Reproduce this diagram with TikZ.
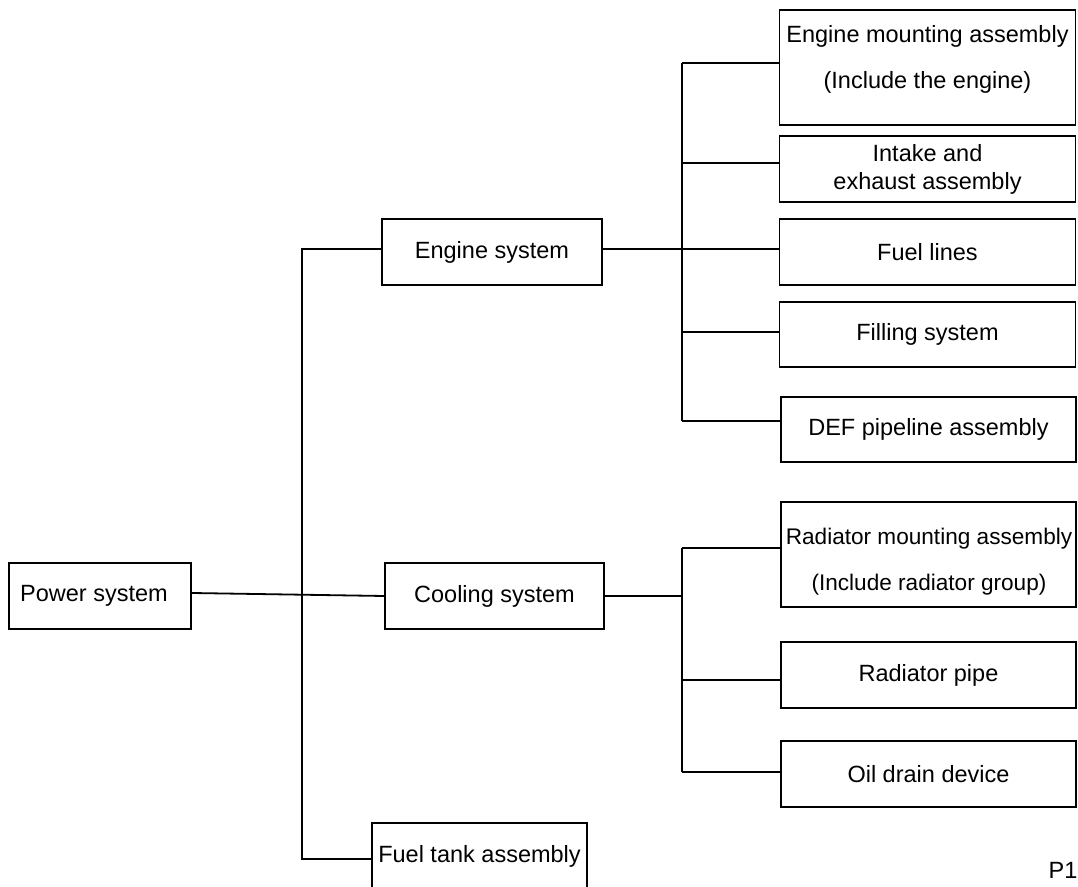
\documentclass[tikz,border=0pt]{standalone}
\usepackage{fontspec}
\setmainfont{Liberation Sans}
\tikzset{
  box/.style={draw,rectangle,inner sep=2pt,align=center,font=\fontsize{11.75}{14}\selectfont},
  boxtext/.style={inner sep=0pt,align=center,font=\fontsize{11.75}{14}\selectfont},
  mainbox/.style={box,minimum width=110pt,minimum height=33pt},
  subbox/.style={box,minimum width=148pt,minimum height=33pt}
}
\begin{document}
\begin{tikzpicture}[x=0.5pt,y=-0.5pt,line width=0.9pt]
    \useasboundingbox (0,0) rectangle (1078,887);
    % first and second level
    \node[box,minimum width=91pt,minimum height=33pt] (power) at (100,596) {\hspace*{-6pt}Power system};
    \node[mainbox] (engsys) at (492,252) {Engine system};
    \node[mainbox,minimum width=109.5pt] (coolsys) at (494.5,596) {Cooling system};
    \node[mainbox,minimum width=107.5pt] (tank) at (479.5,856) {Fuel tank assembly};
    % engine parts
    \node[subbox,minimum height=57.5pt] (mount) at (927.5,67.5) {};
    \node[boxtext] (mounttxt) at (927.5,59.5) {Engine mounting assembly\\[9pt](Include the engine)};
    \node[subbox] (intake) at (927.5,169) {Intake and\\exhaust assembly};
    \node[subbox] (fuel) at (927.5,252) {Fuel lines};
    \node[subbox,minimum height=32.5pt] (fill) at (927.5,334.5) {Filling system};
    \node[subbox,minimum width=147.5pt,minimum height=32.5pt] (def) at (928.5,429.5) {DEF pipeline assembly};
    % cooling parts
    \node[subbox,minimum width=147.5pt,minimum height=52.5pt] (radmount) at (928.5,554.5) {};
    \node[boxtext,font=\fontsize{11.3}{13.5}\selectfont] (radmounttxt) at (929,561.5) {Radiator mounting assembly\\[9.5pt](Include radiator group)};
    \node[subbox,minimum width=147.5pt] (radpipe) at (928.5,675) {Radiator pipe};
    \node[subbox,minimum width=147.5pt] (oil) at (928.5,774) {Oil drain device};
    \node[boxtext] (page) at (1063,870) {P1};
    % buses
    \coordinate (mainbus) at (302,0);
    \coordinate (engbus) at (682,0);
    \coordinate (coolbus) at (682,0);
    % connectors
    \draw ([yshift=1.5pt]power.east) -- (coolsys.west);
    \draw ([yshift=1.5pt]engsys.west) -| ([yshift=-1.5pt]tank.west -| mainbus) -- ([yshift=-1.5pt]tank.west);
    \draw ([yshift=1.5pt]engsys.east) -- ([yshift=1.5pt]engsys.east -| engbus);
    \draw ([yshift=2.25pt]mount.west -| engbus) -- ([yshift=4.25pt]def.west -| engbus);
    \foreach \n/\dy in {mount/2.25,intake/3,fuel/1.5,fill/1.25,def/4.25}
      \draw ([yshift=\dy pt]\n.west) -- ([yshift=\dy pt]\n.west -| engbus);
    \draw (coolsys.east) -- (coolsys.east -| coolbus);
    \draw ([yshift=3.25pt]radmount.west -| coolbus) -- ([yshift=1pt]oil.west -| coolbus);
    \foreach \n/\dy in {radmount/3.25,radpipe/-2.5,oil/1}
      \draw ([yshift=\dy pt]\n.west) -- ([yshift=\dy pt]\n.west -| coolbus);
\end{tikzpicture}
\end{document}
